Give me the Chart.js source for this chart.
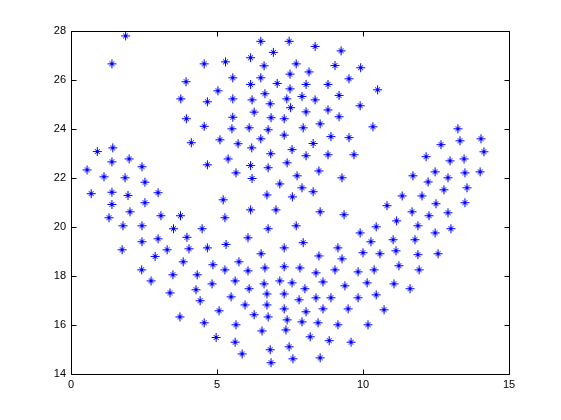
<!DOCTYPE html>
<html>
<head>
<meta charset="utf-8">
<script src="https://cdn.jsdelivr.net/npm/chart.js@4/dist/chart.umd.min.js"></script>
<style>
  body { margin: 0; background: #fff; }
  canvas { display: block; }
</style>
</head>
<body>
<canvas id="myScatter" width="561" height="420"></canvas>
<script>
// data
const xValues = [
  1.87, 1.40, 3.76,
  6.50, 7.47, 6.93, 4.56, 5.29, 6.15, 6.61, 3.94, 5.54, 6.50, 6.15, 7.06, 7.50, 7.50, 5.03, 4.67, 5.54,
  6.20, 6.64, 6.82, 7.39, 7.52, 3.95, 4.56, 5.54, 5.51, 6.27, 6.10, 6.85, 7.30, 6.75, 7.30, 4.12, 5.10, 5.72, 6.50,
  8.36, 9.25, 7.71, 9.04, 9.92, 8.15, 9.52, 8.05, 8.80, 10.50, 7.91, 8.36, 9.18, 8.05, 8.80, 9.90, 9.18, 8.53,
  7.95, 10.34, 8.90, 9.52, 8.29,
  13.25, 13.32, 14.04, 12.67,
  0.90, 1.43, 1.40, 1.99, 0.55, 2.43, 1.13, 1.85, 2.53, 0.69, 1.40, 1.95, 2.98, 1.40, 2.53, 2.02, 1.30, 3.08,
  3.75, 1.78, 2.43, 3.51, 2.43, 2.98, 1.75, 3.29, 2.88,
  6.19, 7.57, 6.84, 5.38, 4.67, 6.15, 6.75, 7.40, 5.65, 6.20, 7.15, 6.71, 7.58, 5.21, 6.15, 7.02, 5.27, 4.49,
  6.75, 3.97, 6.06, 5.31, 4.04, 4.67, 7.30, 6.51,
  8.05, 8.80, 9.69, 7.74, 8.49, 9.28, 7.91, 8.29, 11.34, 10.82, 8.53, 9.35, 7.71, 11.15, 10.45, 9.90, 7.95,
  10.27, 11.03, 9.14, 10.00, 10.58, 11.13, 8.49,
  14.14, 12.16, 12.98, 13.46, 11.71, 12.47, 12.91, 13.49, 14.01, 12.23, 13.56, 12.77, 12.02, 12.50, 13.49,
  11.68, 12.26, 12.91, 11.88, 12.47, 13.01, 11.78, 11.88, 12.57,
  2.42, 3.84, 2.74, 3.49, 3.39, 3.73,
  4.86, 5.75, 4.32, 5.27, 6.06, 6.64, 7.30, 4.28, 4.83, 5.62, 6.10, 6.61, 7.15, 7.57, 4.42, 5.48, 6.71, 7.30,
  5.96, 6.71, 7.30, 5.07, 6.27, 6.75, 7.40, 4.56, 5.65, 6.54, 7.36, 4.97, 5.62, 7.47, 6.82, 5.86, 6.85,
  9.28, 7.84, 8.39, 9.04, 9.83, 10.38, 11.23, 8.01, 8.63, 9.38, 10.14, 11.06, 7.81, 8.39, 8.90, 9.83, 10.45,
  8.05, 8.63, 9.49, 10.72, 7.91, 8.46, 9.14, 10.17, 8.19, 8.84, 9.59, 7.60, 8.53,
  11.92, 11.61
];
const yValues = [
  27.80, 26.66, 25.23,
  27.58, 27.58, 27.13, 26.66, 26.74, 26.91, 26.58, 25.93, 26.09, 26.09, 25.82, 25.86, 26.24, 25.64, 25.56, 25.11, 25.23,
  25.19, 25.44, 25.03, 25.23, 24.87, 24.42, 24.11, 24.48, 24.01, 24.69, 24.05, 24.46, 24.42, 23.97, 23.75, 23.44, 23.56, 23.40, 23.60,
  27.37, 27.19, 26.66, 26.59, 26.50, 26.33, 26.05, 25.82, 25.82, 25.60, 25.33, 25.19, 25.37, 24.70, 24.78, 24.95, 24.50, 24.21,
  24.05, 24.09, 23.69, 23.65, 23.41,
  24.01, 23.52, 23.60, 23.36,
  23.08, 23.23, 22.66, 22.78, 22.33, 22.46, 22.05, 22.01, 21.83, 21.36, 21.42, 21.29, 21.40, 20.92, 20.99, 20.62, 20.38, 20.46,
  20.46, 20.05, 20.05, 19.93, 19.40, 19.52, 19.07, 19.07, 18.80,
  23.23, 23.16, 22.99, 22.78, 22.54, 22.51, 22.42, 22.62, 22.21, 21.98, 21.76, 21.31, 21.23, 21.11, 20.70, 20.70, 20.38, 19.93,
  19.93, 19.58, 19.56, 19.29, 19.11, 19.15, 19.15, 18.91,
  22.91, 22.95, 22.95, 22.09, 22.29, 22.01, 21.60, 21.44, 21.27, 20.87, 20.62, 20.50, 20.05, 20.25, 20.01, 19.76, 19.36,
  19.40, 19.48, 19.15, 18.95, 18.91, 19.03, 18.82,
  23.07, 22.87, 22.70, 22.78, 22.09, 22.25, 22.01, 22.21, 22.25, 21.84, 21.60, 21.52, 21.27, 20.95, 20.99,
  20.62, 20.46, 20.58, 20.05, 19.76, 19.93, 19.48, 18.87, 18.91,
  18.25, 18.58, 17.80, 18.05, 17.31, 16.33,
  18.46, 18.58, 18.05, 18.25, 18.21, 18.33, 18.38, 17.44, 17.68, 17.80, 17.48, 17.68, 17.80, 17.72, 16.99, 17.15, 17.27, 17.27,
  16.82, 16.82, 16.66, 16.58, 16.42, 16.33, 16.21, 16.09, 16.01, 15.76, 15.80, 15.49, 15.30, 15.11, 14.99, 14.82, 14.46,
  18.70, 18.33, 18.13, 18.25, 18.17, 18.25, 18.42, 17.48, 17.76, 17.60, 17.72, 17.68, 17.03, 17.11, 17.11, 17.11, 17.23,
  16.54, 16.66, 16.66, 16.62, 16.13, 16.09, 16.01, 16.01, 15.52, 15.36, 15.30, 14.62, 14.66,
  18.25, 17.48
];
const xTicks = [0, 5, 10, 15];
const yTicks = [14, 16, 18, 20, 22, 24, 26, 28];

// matlab-like '*' marker
function makeStar() {
    var c = document.createElement('canvas');
    c.width = 11; c.height = 11;
    var g = c.getContext('2d');
    g.fillStyle = '#0000ff';
    g.fillRect(1, 5, 9, 1);
    g.fillRect(5, 1, 1, 9);
    g.fillRect(4, 4, 3, 3);
    [[3,3],[7,3],[3,7],[7,7]].forEach(function (p) { g.fillRect(p[0], p[1], 1, 1); });
    return c;
}

const points = xValues.map(function (x, i) { return { x: x, y: yValues[i] }; });

const boxAxes = {
    id: 'boxAxes',
    afterDraw: function (chart) {
        var ctx = chart.ctx, a = chart.chartArea;
        var xs = chart.scales.x, ys = chart.scales.y;
        ctx.save();
        ctx.strokeStyle = '#000';
        ctx.lineWidth = 1;
        ctx.beginPath();
        var L = Math.round(a.left) + 0.5, R = Math.round(a.right) + 0.5;
        var T = Math.round(a.top) + 0.5, B = Math.round(a.bottom) + 0.5;
        ctx.rect(L, T, R - L, B - T);
        xTicks.forEach(function (v) {
            var px = Math.round(xs.getPixelForValue(v)) + 0.5;
            ctx.moveTo(px, B); ctx.lineTo(px, B - 5);
            ctx.moveTo(px, T); ctx.lineTo(px, T + 5);
        });
        yTicks.forEach(function (v) {
            var py = Math.round(ys.getPixelForValue(v)) + 0.5;
            ctx.moveTo(L, py); ctx.lineTo(L + 5, py);
            ctx.moveTo(R, py); ctx.lineTo(R - 5, py);
        });
        ctx.stroke();
        ctx.restore();
    }
};

var ctx = document.getElementById('myScatter').getContext('2d');
const myChart = new Chart(ctx, {
    type: 'scatter',
    data: {
        datasets: [{
            data: points,
            pointStyle: makeStar(),
            pointRadius: 5,
            pointHoverRadius: 5
        }]
    },
    options: {
        responsive: false,
        animation: false,
        events: [],
        layout: { padding: { left: 0, top: 31, right: 52, bottom: 0 } },
        plugins: { legend: { display: false }, tooltip: { enabled: false } },
        scales: {
            x: {
                type: 'linear', min: 0, max: 15,
                afterFit: function (s) { s.height = 46; },
                afterBuildTicks: function (s) { s.ticks = xTicks.map(function (v) { return { value: v }; }); },
                grid: { display: false, drawTicks: false },
                border: { display: false },
                ticks: { color: '#000', padding: 4, maxRotation: 0, font: { family: 'Liberation Sans, Arial', size: 11 } }
            },
            y: {
                type: 'linear', min: 14, max: 28,
                afterFit: function (s) { s.width = 71; },
                afterBuildTicks: function (s) { s.ticks = yTicks.map(function (v) { return { value: v }; }); },
                grid: { display: false, drawTicks: false },
                border: { display: false },
                ticks: { color: '#000', padding: 5, font: { family: 'Liberation Sans, Arial', size: 11 } }
            }
        }
    },
    plugins: [boxAxes]
});
</script>
</body>
</html>
